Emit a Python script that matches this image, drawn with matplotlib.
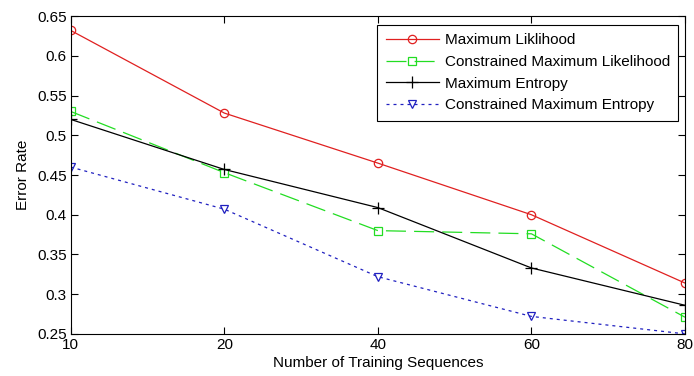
import numpy as np
import matplotlib
matplotlib.use("Agg")
import matplotlib.pyplot as plt

plt.rcParams["font.family"] = ["Liberation Sans", "DejaVu Sans"]

sequences = ["10", "20", "40", "60", "80"]
max_likelihood = [0.632, 0.528, 0.465, 0.400, 0.314]
constrained_ml = [0.530, 0.453, 0.380, 0.376, 0.271]
max_entropy = [0.520, 0.457, 0.409, 0.333, 0.286]
constrained_me = [0.460, 0.407, 0.322, 0.272, 0.250]

x = np.arange(len(sequences))

fig = plt.figure(figsize=(6.94, 3.76), dpi=100)
ax = fig.add_axes([0.102, 0.112, 0.885, 0.845])

ax.plot(x, max_likelihood, color="#e02020", lw=0.9, marker="o", ms=6,
        mfc="none", mew=0.9, label="Maximum Liklihood")
ax.plot(x, constrained_ml, color="#22dd22", lw=0.9, ls=(0, (16, 6.5)), marker="s",
        ms=6, mfc="none", mew=0.9, label="Constrained Maximum Likelihood")
ax.plot(x, max_entropy, color="black", lw=0.9, marker="+", ms=8, mew=0.9,
        label="Maximum Entropy")
ax.plot(x, constrained_me, color="#2020c0", lw=0.9, ls=(0, (2.4, 3.2)), marker="v",
        ms=6, mfc="none", mew=0.9, label="Constrained Maximum Entropy")

ax.set_xlim(0, len(sequences) - 1)
ax.set_ylim(0.25, 0.65)
ax.set_xticks(x)
ax.set_xticklabels(sequences)
ax.set_yticks([0.25, 0.3, 0.35, 0.4, 0.45, 0.5, 0.55, 0.6, 0.65])
ax.set_yticklabels(["0.25", "0.3", "0.35", "0.4", "0.45", "0.5", "0.55", "0.6", "0.65"])
ax.tick_params(direction="in", top=True, right=True, labelsize=11, length=5, pad=3)
ax.set_xlabel("Number of Training Sequences", fontsize=11, labelpad=3)
ax.set_ylabel("Error Rate", fontsize=11, labelpad=5)
for s in ax.spines.values():
    s.set_linewidth(0.8)

leg = ax.legend(loc="upper right", fontsize=11, fancybox=False, framealpha=1,
                edgecolor="black", borderpad=0.55, labelspacing=0.5,
                handlelength=3.5, handletextpad=0.35, borderaxespad=0,
                bbox_to_anchor=(0.989, 0.972))
leg.get_frame().set_linewidth(0.8)

fig.savefig("out.png", dpi=100)
